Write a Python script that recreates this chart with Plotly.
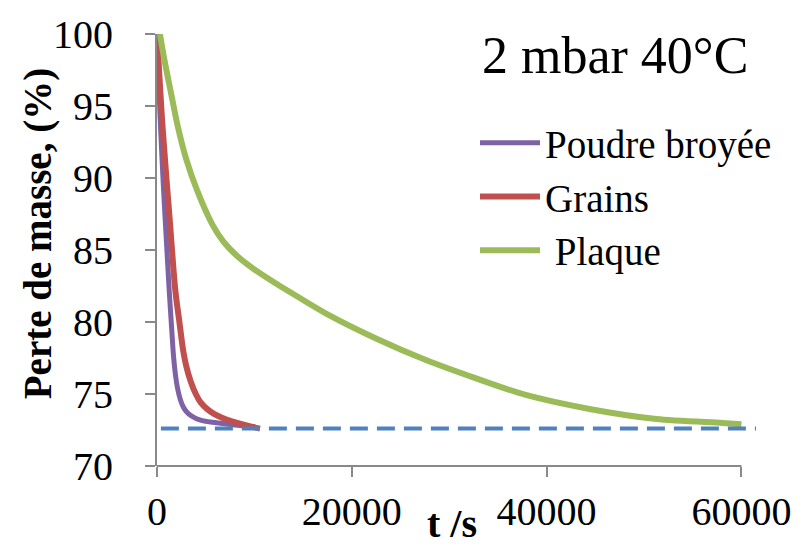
import plotly.graph_objects as go

# ---- data ----
t_poudre = [0, 300, 650, 950, 1270, 1500, 1700, 1900, 2110, 2400, 2700, 3000, 3470,
            4000, 4650, 5500, 7020, 8500, 10070]
m_poudre = [100, 94.5, 89.5, 85.8, 82.0, 79.6, 77.6, 76.3, 75.4, 74.6, 74.1, 73.8, 73.5,
            73.3, 73.15, 73.05, 72.93, 72.82, 72.73]

t_grains = [0, 560, 1340, 1880, 2300, 2690, 3000, 3470, 3980, 4500, 5160, 5900,
            6680, 7700, 8710, 9600, 10570]
m_grains = [100, 93.65, 86.8, 82.2, 80.0, 78.0, 76.95, 75.85, 75.0, 74.4, 73.95, 73.6,
            73.35, 73.1, 72.9, 72.75, 72.6]

t_plaque = [300, 760, 1440, 2110, 2960, 4140, 5660, 6800, 8200, 10000, 12380, 14460, 17460, 22540,
            27610, 32690, 37770, 44540, 51270, 58040, 60000]
m_plaque = [100, 98.2, 95.9, 93.65, 91.4, 89.1, 86.8, 85.6, 84.6, 83.65, 82.6, 81.75, 80.55, 78.84,
            77.36, 76.1, 74.95, 73.94, 73.26, 72.99, 72.9]

t_ref = [400, 61500]
m_ref = [72.6, 72.6]

x_ticks = [0, 20000, 40000, 60000]
y_ticks = [70, 75, 80, 85, 90, 95, 100]

FONT = "Liberation Serif"
AX = "#898989"

fig = go.Figure()
fig.add_trace(go.Scatter(x=t_poudre, y=m_poudre, mode="lines", name="Poudre broyée",
                         line=dict(color="#7F62A6", width=5, shape="spline", smoothing=0.8)))
fig.add_trace(go.Scatter(x=t_grains, y=m_grains, mode="lines", name="Grains",
                         line=dict(color="#C0504D", width=6, shape="spline", smoothing=0.8)))
fig.add_trace(go.Scatter(x=t_plaque, y=m_plaque, mode="lines", name="\u00a0Plaque",
                         line=dict(color="#9BBB59", width=6, shape="spline", smoothing=0.8)))
fig.add_trace(go.Scatter(x=t_ref, y=m_ref, mode="lines", showlegend=False,
                         line=dict(color="#4F81BD", width=4, dash="18px,9px")))

fig.add_shape(type="line", xref="x", yref="paper", x0=0, x1=60000, y0=0, y1=0,
              line=dict(color=AX, width=2))

fig.update_layout(
    width=803, height=550,
    margin=dict(l=157, r=39, t=27, b=84),
    paper_bgcolor="white", plot_bgcolor="white",
    font=dict(family=FONT, size=40, color="black"),
    showlegend=True,
    legend=dict(x=0.53, y=0.822, xanchor="left", yanchor="top",
                bgcolor="rgba(0,0,0,0)", font=dict(family=FONT, size=39, color="black"),
                tracegroupgap=0, itemwidth=60),
    xaxis=dict(range=[0, 61600], tickvals=x_ticks, ticktext=[str(v) for v in x_ticks],
               showline=False, showgrid=False, zeroline=False,
               ticks="outside", ticklen=10, tickwidth=2, tickcolor=AX,
               tickfont=dict(family=FONT, size=40, color="black")),
    yaxis=dict(range=[70, 100], tickvals=y_ticks, ticktext=[str(v) for v in y_ticks],
               showline=True, linecolor=AX, linewidth=2, showgrid=False, zeroline=False,
               ticks="outside", ticklen=10, tickwidth=2, tickcolor=AX,
               ticklabelstandoff=24,
               tickfont=dict(family=FONT, size=40, color="black")),
    annotations=[
        dict(text="2 mbar 40°C", xref="paper", yref="paper", x=0.538, y=0.95,
             xanchor="left", yanchor="middle", showarrow=False,
             font=dict(family=FONT, size=52, color="black")),
        dict(text="<b>Perte de masse, (%)</b>", xref="paper", yref="paper", x=-0.198, y=0.537,
             textangle=-90, xanchor="center", yanchor="middle", showarrow=False,
             font=dict(family=FONT, size=39, color="black")),
        dict(text="<b>t /s</b>", xref="paper", yref="paper", x=0.491, y=-0.19,
             xanchor="center", yanchor="bottom", showarrow=False,
             font=dict(family=FONT, size=40, color="black")),
    ],
)

fig.write_html("out.html")
